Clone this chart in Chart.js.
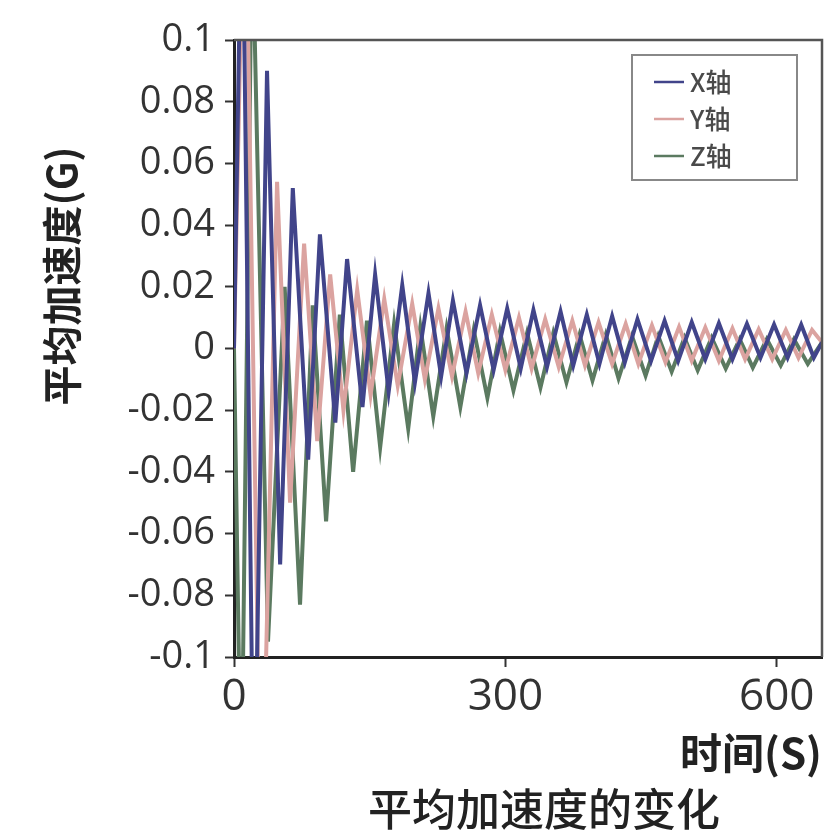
<!DOCTYPE html>
<html>
<head>
<meta charset="utf-8">
<script src="https://cdn.jsdelivr.net/npm/chart.js@4.4.1/dist/chart.umd.min.js"></script>
<style>
  html, body { margin: 0; padding: 0; background: #ffffff; }
  #wrap { width: 829px; height: 835px; position: relative; }
</style>
</head>
<body>
<div id="wrap"><canvas id="c"></canvas></div>
<script>
// ---- data ----
const seriesNames = ['X轴', 'Y轴', 'Z轴'];
const seriesColors = ['#41448a', '#dba3a0', '#5b7a60'];

const xTimes = [0, 9, 22, 36.5, 51, 65, 82, 95, 112, 125, 142, 156, 171, 186, 200, 215, 229, 242, 257, 272, 287, 302, 317, 331, 346, 361, 375, 390, 404, 418, 432, 446, 461, 476, 491, 506, 521, 536, 551, 567, 582, 597, 612, 627, 641, 650];
const xAccel = [0, 0.16, -0.16, 0.09, -0.07, 0.052, -0.036, 0.037, -0.024, 0.029, -0.019, 0.024, -0.014, 0.0205, -0.011, 0.018, -0.009, 0.0155, -0.008, 0.014, -0.007, 0.013, -0.0065, 0.0125, -0.006, 0.012, -0.0055, 0.011, -0.005, 0.0105, -0.0045, 0.0095, -0.004, 0.009, -0.004, 0.0085, -0.0035, 0.0082, -0.0035, 0.008, -0.003, 0.0078, -0.003, 0.0077, -0.003, 0.002];

const yTimes = [0, 12, 30, 47.6, 62, 77.5, 92, 106.3, 121, 136.2, 151, 166.1, 181, 197, 211, 226, 241, 256, 270, 285, 300, 315, 329, 344, 359, 374, 388, 403, 418, 433, 447, 462, 477, 492, 506, 521, 536, 551, 565, 580, 595, 610, 624, 639, 650];
const yAccel = [0, 0.17, -0.17, 0.054, -0.05, 0.034, -0.03, 0.024, -0.02, 0.019, -0.015, 0.016, -0.012, 0.0145, -0.01, 0.013, -0.009, 0.012, -0.008, 0.011, -0.007, 0.010, -0.0065, 0.0095, -0.006, 0.009, -0.0055, 0.0085, -0.005, 0.008, -0.005, 0.0075, -0.0045, 0.007, -0.004, 0.0068, -0.004, 0.0065, -0.0035, 0.0062, -0.0035, 0.006, -0.003, 0.006, 0.002];

const zTimes = [0, 8, 20, 37.6, 56, 73, 87, 101.8, 117, 131.7, 147, 161.6, 177, 192.6, 206, 220.3, 235, 250.2, 265, 280.1, 294, 308.9, 324, 338.8, 353, 367.5, 382, 396.3, 411, 425.1, 440, 455, 469, 483.8, 498, 512.6, 528, 543.6, 559, 573.5, 589, 604.4, 619, 634.3, 650];
const zAccel = [0, -0.15, 0.14, -0.095, 0.02, -0.083, 0.014, -0.056, 0.011, -0.040, 0.009, -0.032, 0.008, -0.026, 0.007, -0.022, 0.0065, -0.019, 0.006, -0.016, 0.0055, -0.0136, 0.005, -0.0126, 0.005, -0.011, 0.0045, -0.0104, 0.0045, -0.0097, 0.004, -0.0088, 0.004, -0.0075, 0.0035, -0.0071, 0.0035, -0.0065, 0.003, -0.0062, 0.003, -0.0055, 0.003, -0.005, 0.002];

const xTickValues = [0, 300, 600];
const xRange = [0, 650];
const yRange = [-0.1, 0.1];
const yStep = 0.02;

const yAxisTitle = '平均加速度(G)';
const xAxisTitle = '时间(S)';
const chartTitle = '平均加速度的变化';

// ---- build ----
function pts(ts, vs) { return ts.map((t, i) => ({ x: t, y: vs[i] })); }

const datasets = [
  { label: seriesNames[0], data: pts(xTimes, xAccel), borderColor: seriesColors[0] },
  { label: seriesNames[1], data: pts(yTimes, yAccel), borderColor: seriesColors[1] },
  { label: seriesNames[2], data: pts(zTimes, zAccel), borderColor: seriesColors[2] }
].map(d => Object.assign(d, { borderWidth: 4, pointRadius: 0, tension: 0, fill: false }));

const cjk = '"Noto Sans CJK SC", "Noto Sans", sans-serif';

const decorPlugin = {
  id: 'decor',
  afterDatasetsDraw(chart) {
    const { ctx, chartArea: a } = chart;
    ctx.save();
    // frame (top & right)
    ctx.strokeStyle = '#555';
    ctx.lineWidth = 2.5;
    ctx.beginPath();
    ctx.moveTo(a.left, a.top);
    ctx.lineTo(a.right, a.top);
    ctx.lineTo(a.right, a.bottom);
    ctx.stroke();
    // legend
    const lx = 632, ly = 55, lw = 165, lh = 125;
    ctx.fillStyle = '#fff';
    ctx.fillRect(lx, ly, lw, lh);
    ctx.strokeStyle = '#888';
    ctx.lineWidth = 2;
    ctx.strokeRect(lx, ly, lw, lh);
    ctx.font = '500 26px ' + cjk;
    ctx.textBaseline = 'middle';
    ctx.textAlign = 'left';
    chart.data.datasets.forEach((ds, i) => {
      const yy = ly + 27 + i * 37;
      ctx.strokeStyle = ds.borderColor;
      ctx.lineWidth = 2.5;
      ctx.beginPath();
      ctx.moveTo(lx + 22, yy);
      ctx.lineTo(lx + 52, yy);
      ctx.stroke();
      ctx.fillStyle = '#4a4a4a';
      ctx.fillText(ds.label, lx + 58, yy);
    });
    ctx.restore();
  },
  afterDraw(chart) {
    const { ctx } = chart;
    ctx.save();
    ctx.fillStyle = '#222';
    ctx.textAlign = 'center';
    ctx.textBaseline = 'middle';
    ctx.translate(62, 276);
    ctx.rotate(-Math.PI / 2);
    ctx.font = 'bold 40px ' + cjk;
    ctx.fillText(yAxisTitle, 0, 0);
    ctx.restore();
    ctx.save();
    ctx.fillStyle = '#222';
    ctx.textAlign = 'center';
    ctx.textBaseline = 'middle';
    ctx.font = '500 44px ' + cjk;
    ctx.fillText(chartTitle, 544, 809);
    ctx.restore();
  }
};

new Chart(document.getElementById('c'), {
  type: 'line',
  data: { datasets },
  plugins: [decorPlugin],
  options: {
    responsive: true,
    maintainAspectRatio: false,
    animation: false,
    layout: { padding: { left: 0, right: 7, top: 40, bottom: 0 } },
    plugins: { legend: { display: false }, tooltip: { enabled: false }, title: { display: false } },
    scales: {
      x: {
        type: 'linear',
        min: xRange[0],
        max: xRange[1],
        afterBuildTicks: s => { s.ticks = xTickValues.map(v => ({ value: v })); },
        afterFit: s => { s.height = 178; },
        grid: { drawOnChartArea: false, drawTicks: true, tickLength: 10, tickWidth: 2, tickColor: '#333' },
        border: { display: true, color: '#222', width: 3 },
        ticks: { font: { family: '"Open Sans", sans-serif', size: 44 }, color: '#333', padding: 4, maxRotation: 0 },
        title: { display: true, text: xAxisTitle, align: 'end', color: '#222', font: { family: cjk, size: 42, weight: 'bold' }, padding: { top: 0, bottom: 57 } }
      },
      y: {
        type: 'linear',
        min: yRange[0],
        max: yRange[1],
        afterFit: s => { s.width = 234; },
        grid: { drawOnChartArea: false, drawTicks: true, tickLength: 9, tickWidth: 2, tickColor: '#333' },
        border: { display: true, color: '#222', width: 3 },
        ticks: { stepSize: yStep, font: { family: '"Open Sans", sans-serif', size: 38 }, color: '#333', padding: 10,
          callback: v => String(Number(v.toFixed(2))) }
      }
    }
  }
});
</script>
</body>
</html>
